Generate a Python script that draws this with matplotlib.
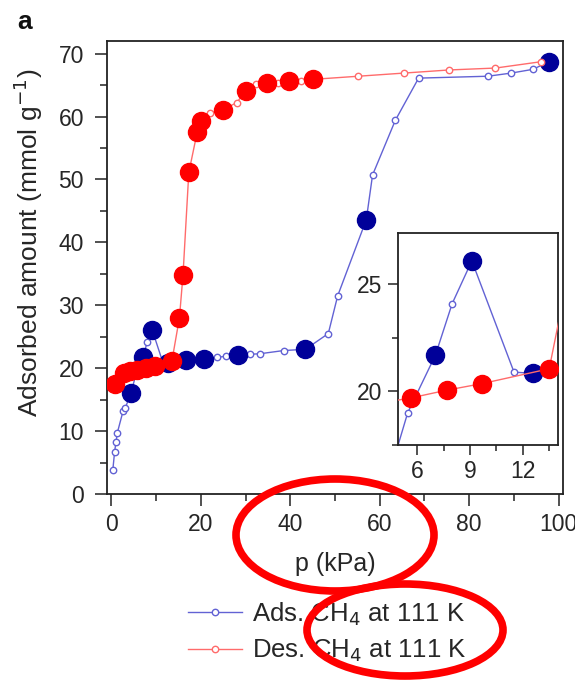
import matplotlib
matplotlib.use("Agg")
import matplotlib.pyplot as plt
from matplotlib.patches import Ellipse
from matplotlib.ticker import MultipleLocator

plt.rcParams['font.family'] = ['Liberation Sans', 'DejaVu Sans']

# adsorption branch (kPa, mmol/g)
ads_p = [0.3, 0.7, 1.0, 1.3, 2.6, 3.1, 4.4, 5.45, 7.03, 7.98, 9.1, 11.5, 12.6,
         16.7, 20.8, 23.5, 25.6, 28.3, 30.9, 33.3, 38.5, 43.4, 48.5, 50.6,
         57.0, 58.4, 63.5, 68.7, 84.2, 89.4, 94.3, 97.8]
ads_q = [3.8, 6.7, 8.2, 9.7, 13.2, 13.7, 16.1, 19.0, 21.7, 24.1, 26.1, 20.9, 20.85,
         21.3, 21.5, 21.7, 21.9, 22.1, 22.2, 22.3, 22.8, 23.0, 25.5, 31.5,
         43.6, 50.7, 59.4, 66.1, 66.4, 66.9, 67.5, 68.7]
# highlighted (filled) adsorption points
ads_big_p = [4.4, 7.03, 9.1, 12.6, 16.7, 20.8, 28.3, 43.4, 57.0, 97.8]
ads_big_q = [16.1, 21.7, 26.1, 20.85, 21.3, 21.5, 22.1, 23.0, 43.6, 68.7]

# desorption branch
des_p = [96.0, 85.9, 75.6, 65.4, 55.2, 45.0, 42.3, 39.7, 37.2, 34.7, 32.4, 30.1,
         28.0, 25.0, 22.1, 20.1, 19.2, 17.3, 16.0, 15.2, 13.5, 9.7, 7.67, 5.64,
         4.2, 2.9, 0.9]
des_q = [68.7, 67.7, 67.4, 66.9, 66.4, 65.9, 65.7, 65.7, 65.4, 65.4, 65.1, 64.1,
         62.2, 61.1, 60.6, 59.3, 57.6, 51.1, 34.8, 28.0, 21.06, 20.37, 20.06, 19.7,
         19.5, 19.2, 17.5]
des_big_p = [45.0, 39.7, 34.7, 30.1, 25.0, 20.1, 19.2, 17.3, 16.0, 15.2, 13.5,
             9.7, 7.67, 5.64, 4.2, 2.9, 0.9]
des_big_q = [65.9, 65.7, 65.4, 64.1, 61.1, 59.3, 57.6, 51.1, 34.8, 28.0, 21.06,
             20.37, 20.06, 19.7, 19.5, 19.2, 17.5]

ads_line = '#6262d4'
ads_fill = '#000099'
des_line = '#ff6b6b'
des_fill = '#ff0000'
txt = '#262626'

W, H = 575, 681
fig = plt.figure(figsize=(W / 100, H / 100), dpi=100)


def draw(ax, small=4.6, big=13):
    ln_a, = ax.plot(ads_p, ads_q, '-o', color=ads_line, lw=1.0, ms=small,
                    mfc='white', mec=ads_line, mew=1.0,
                    label='Ads. CH$_4$ at 111 K', zorder=2)
    ax.plot(ads_big_p, ads_big_q, 'o', color=ads_fill, ms=big, mec=ads_fill, zorder=3)
    ln_d, = ax.plot(des_p, des_q, '-o', color=des_line, lw=1.0, ms=small,
                    mfc='white', mec=des_line, mew=1.0,
                    label='Des. CH$_4$ at 111 K', zorder=4)
    ax.plot(des_big_p, des_big_q, 'o', color=des_fill, ms=big, mec=des_fill, zorder=5)
    return ln_a, ln_d


def style(ax, fs=16.5):
    for s in ax.spines.values():
        s.set_linewidth(1.3)
        s.set_color('#222222')
    ax.tick_params(which='major', direction='out', length=8.5, width=1.1,
                   labelsize=fs, colors='#222222', labelcolor=txt)
    ax.tick_params(which='minor', direction='out', length=5, width=1.1, colors='#222222')
    ax.tick_params(top=False, right=False, which='both')


# main axes
ax = fig.add_axes([107 / W, 1 - 494 / H, 456 / W, 453 / H])
ln_a, ln_d = draw(ax)
ax.set_xlim(-1, 101)
ax.set_ylim(0, 72)
ax.xaxis.set_major_locator(MultipleLocator(20))
ax.xaxis.set_minor_locator(MultipleLocator(10))
ax.yaxis.set_major_locator(MultipleLocator(10))
ax.yaxis.set_minor_locator(MultipleLocator(5))
style(ax)
ax.tick_params(axis='y', pad=8)
ax.tick_params(axis='x', pad=5)
ax.set_xlabel('p (kPa)', fontsize=18, color=txt)
ax.xaxis.set_label_coords(0.5, -0.128)
ax.set_ylabel('Adsorbed amount (mmol g$^{-1}$)', fontsize=19, color=txt)
ax.yaxis.set_label_coords(-0.136, 0.554)

# inset
ins = fig.add_axes([398 / W, 1 - 445 / H, 160 / W, 212 / H])
draw(ins)
ins.set_xlim(4.9, 14.0)
ins.set_ylim(17.5, 27.4)
ins.xaxis.set_major_locator(MultipleLocator(3))
ins.xaxis.set_minor_locator(MultipleLocator(1.5))
ins.yaxis.set_major_locator(MultipleLocator(5))
ins.yaxis.set_minor_locator(MultipleLocator(2.5))
style(ins)
ins.tick_params(which='major', length=7)
ins.tick_params(which='minor', length=4.5)
ins.tick_params(axis='y', pad=4)

fig.text(17 / W, 1 - 22 / H, 'a', fontsize=19, fontweight='bold', color='#111111',
         va='center', ha='left')

fig.legend(handles=[ln_a, ln_d], loc='upper left',
           bbox_to_anchor=(188 / W, 1 - 600 / H), frameon=False, fontsize=18.5,
           handlelength=2.1, handletextpad=0.4, labelspacing=0.4,
           borderpad=0, borderaxespad=0, numpoints=1, labelcolor=txt)

# red highlight ellipses
for cx, cy, ew, eh in [(335, 535, 198, 112), (405, 630, 196, 92)]:
    fig.patches.append(Ellipse((cx / W, 1 - cy / H), ew / W, eh / H,
                               transform=fig.transFigure, fill=False,
                               edgecolor='#ff0000', lw=5.5, zorder=10))

fig.savefig('out.png', dpi=100)
